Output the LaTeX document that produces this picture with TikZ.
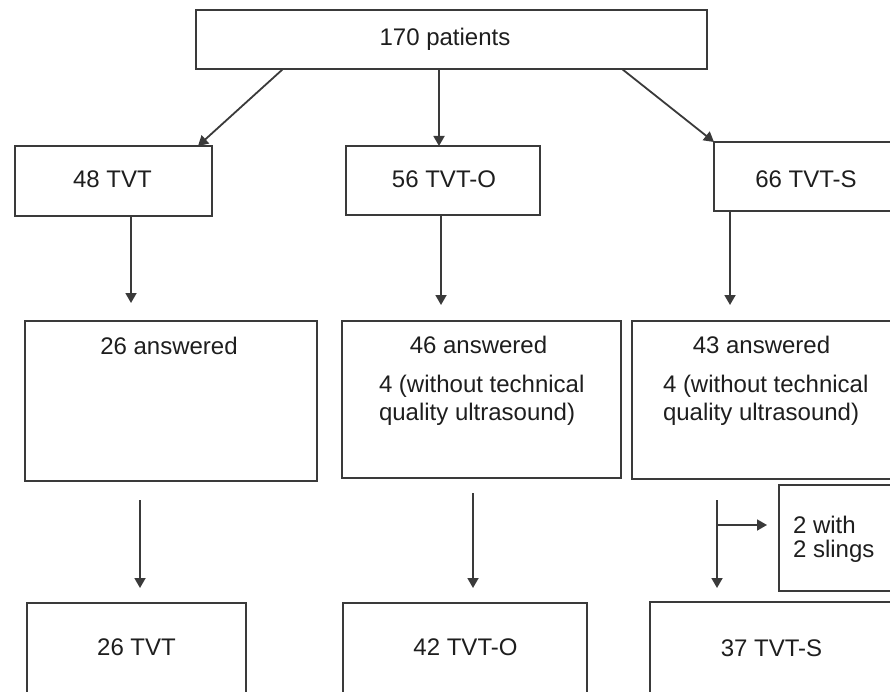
\documentclass[tikz,border=0pt]{standalone}
\usepackage{fontspec}
\setmainfont{Liberation Sans}
\usetikzlibrary{arrows.meta}
\definecolor{ln}{HTML}{3A3A3A}
\definecolor{tx}{HTML}{1E1E1E}
\begin{document}
\begin{tikzpicture}[x=1pt,y=-1pt,
  box/.style={draw=ln,line width=2pt,fill=white,inner sep=0pt,outer sep=0pt,rectangle},
  lbl/.style={inner sep=0pt,outer sep=0pt,text=tx,font=\fontsize{24}{28}\selectfont},
  arr/.style={draw=ln,line width=1.8pt,-{Triangle[length=10pt,width=11pt]}},
  lnk/.style={draw=ln,line width=1.8pt}]
\useasboundingbox (0,0) rectangle (890,692);
\clip (0,0) rectangle (890,692);
% boxes
\node[box,minimum width=511pt,minimum height=59pt] (top) at (451.5,39.5) {};
\node[box,minimum width=197pt,minimum height=70pt] (t1) at (113.5,181) {};
\node[box,minimum width=194pt,minimum height=69pt] (t2) at (443,180.5) {};
\node[box,minimum width=186pt,minimum height=69pt] (t3) at (807,176.5) {};
\node[box,minimum width=292pt,minimum height=160pt] (a1) at (171,401) {};
\node[box,minimum width=279pt,minimum height=157pt] (a2) at (481.5,399.5) {};
\node[box,minimum width=268pt,minimum height=158pt] (a3) at (766,400) {};
\node[box,minimum width=121pt,minimum height=106pt] (side) at (839.5,538) {};
\node[box,minimum width=219pt,minimum height=117pt] (b1) at (136.5,661.5) {};
\node[box,minimum width=244pt,minimum height=117pt] (b2) at (465,661.5) {};
\node[box,minimum width=250pt,minimum height=118pt] (b3) at (775,661) {};
% texts
\node[lbl,anchor=base] (ttop) at (445,46) {170 patients};
\node[lbl,anchor=base] (tt1) at (112.5,188) {48 TVT};
\node[lbl,anchor=base] (tt2) at (444,188) {56 TVT-O};
\node[lbl,anchor=base] (tt3) at (806,188) {66 TVT-S};
\node[lbl,anchor=base] (ta1) at (169,354) {26 answered};
\node[lbl,anchor=base] (ta2) at (478.5,353) {46 answered};
\node[lbl,anchor=base west] (ta2b) at (379,392) {4 (without technical};
\node[lbl,anchor=base west] (ta2c) at (379,420) {quality ultrasound)};
\node[lbl,anchor=base] (ta3) at (761.5,353) {43 answered};
\node[lbl,anchor=base west] (ta3b) at (663,392) {4 (without technical};
\node[lbl,anchor=base west] (ta3c) at (663,420) {quality ultrasound)};
\node[lbl,anchor=base west] (tsa) at (793,533) {2 with};
\node[lbl,anchor=base west] (tsb) at (793,557) {2 slings};
\node[lbl,anchor=base] (tb1) at (136.5,655) {26 TVT};
\node[lbl,anchor=base] (tb2) at (465.5,655) {42 TVT-O};
\node[lbl,anchor=base] (tb3) at (771.5,656) {37 TVT-S};
% connectors
\draw[arr] (top.south -| 283,0) -- (t1.north -| 198,0);
\draw[arr] (top.south -| 439,0) -- (t2.north -| 439,0);
\draw[arr] (top.south -| 622,0) -- (t3.north -| 714,0);
\draw[arr,shorten >=18pt] (t1.south -| 131,0) -- (a1.north -| 131,0);
\draw[arr,shorten >=16pt] (t2.south -| 441,0) -- (a2.north -| 441,0);
\draw[arr,shorten >=16pt] (t3.south -| 730,0) -- (a3.north -| 730,0);
\draw[arr,shorten <=19pt,shorten >=15pt] (a1.south -| 140,0) -- (b1.north -| 140,0);
\draw[arr,shorten <=15pt,shorten >=15pt] (a2.south -| 473,0) -- (b2.north -| 473,0);
\draw[arr,shorten <=21pt,shorten >=14pt] (a3.south -| 717,0) -- (b3.north -| 717,0);
\coordinate (br) at (717,525);
\draw[arr,shorten >=12pt] (br) -- (side.west |- br);
\end{tikzpicture}
\end{document}
